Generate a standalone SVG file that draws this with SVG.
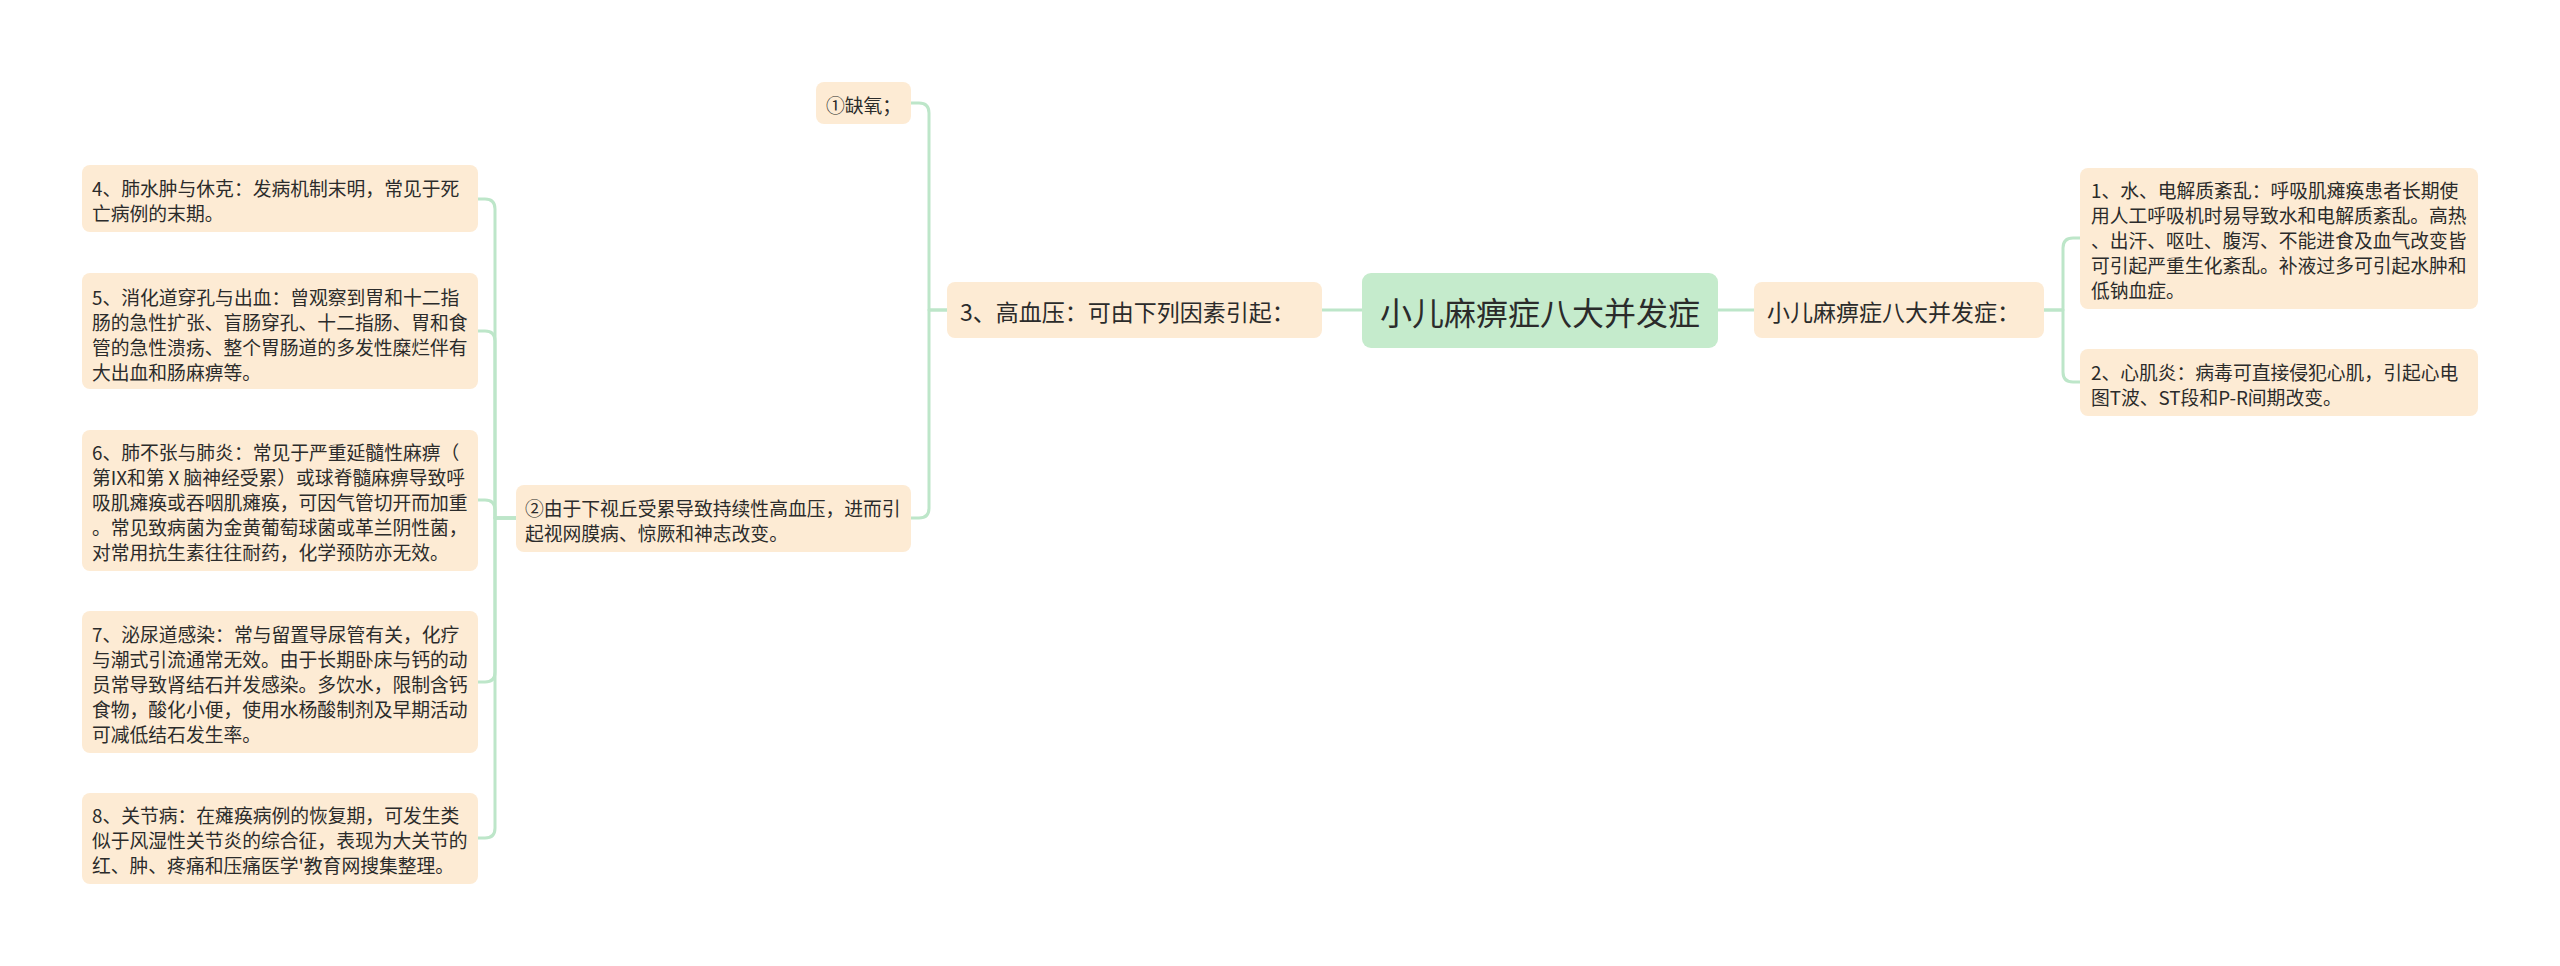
<svg xmlns="http://www.w3.org/2000/svg" width="2560" height="966" viewBox="0 0 2560 966">
<style>
.bg{fill:#ffffff}
.n{fill:#fdebd4}
.c{fill:#c5ebcc}
.t{font-family:"Noto Sans CJK SC","Noto Sans",sans-serif;fill:#2b2b2b;dominant-baseline:central}
.s{font-size:18.8px}
.m{font-size:23px}
.l{font-size:32px}
.e{fill:none;stroke:#bde6c9;stroke-width:3;stroke-linecap:round;stroke-linejoin:round}
</style>
<rect class="bg" x="0" y="0" width="2560" height="966"/>
<g id="connectors">
<path class="e" d="M1362,310 H1322"/>
<path class="e" d="M947,310 H929 V113 Q929,103 919,103 H911"/>
<path class="e" d="M947,310 H929 V508 Q929,518 919,518 H911"/>
<path class="e" d="M516,518 H495 V209 Q495,199 485,199 H478"/>
<path class="e" d="M516,518 H495 V341 Q495,331 485,331 H478"/>
<path class="e" d="M516,518 H495 V510 Q495,500 485,500 H478"/>
<path class="e" d="M516,518 H495 V672 Q495,682 485,682 H478"/>
<path class="e" d="M516,518 H495 V828 Q495,838 485,838 H478"/>
<path class="e" d="M1718,310 H1754"/>
<path class="e" d="M2044,310 H2063 V248 Q2063,238 2073,238 H2080"/>
<path class="e" d="M2044,310 H2063 V372 Q2063,382 2073,382 H2080"/>
</g>
<g id="center">
<rect class="c" x="1362" y="273" width="356" height="75" rx="9"/>
<text class="t l" x="1540" y="311" text-anchor="middle">小儿麻痹症八大并发症</text>
</g>
<g id="right-main">
<rect class="n" x="1754" y="282" width="290" height="56" rx="8"/>
<text class="t m" x="1767" y="311">小儿麻痹症八大并发症：</text>
</g>
<g id="r1">
<rect class="n" x="2080" y="168" width="398" height="141" rx="8"/>
<text class="t s" x="2091"><tspan x="2091" y="189">1、水、电解质紊乱：呼吸肌瘫痪患者长期使</tspan><tspan x="2091" y="214">用人工呼吸机时易导致水和电解质紊乱。高热</tspan><tspan x="2091" y="239">、出汗、呕吐、腹泻、不能进食及血气改变皆</tspan><tspan x="2091" y="264">可引起严重生化紊乱。补液过多可引起水肿和</tspan><tspan x="2091" y="289">低钠血症。</tspan></text>
</g>
<g id="r2">
<rect class="n" x="2080" y="349" width="398" height="67" rx="8"/>
<text class="t s"><tspan x="2091" y="371">2、心肌炎：病毒可直接侵犯心肌，引起心电</tspan><tspan x="2091" y="396">图T波、ST段和P-R间期改变。</tspan></text>
</g>
<g id="left-main">
<rect class="n" x="947" y="282" width="375" height="56" rx="8"/>
<text class="t m" x="960" y="311">3、高血压：可由下列因素引起：</text>
</g>
<g id="l1">
<rect class="n" x="816" y="82" width="95" height="42" rx="8"/>
<text class="t s" x="826" y="104">①缺氧；</text>
</g>
<g id="l2">
<rect class="n" x="516" y="485" width="395" height="67" rx="8"/>
<text class="t s"><tspan x="525" y="507">②由于下视丘受累导致持续性高血压，进而引</tspan><tspan x="525" y="532">起视网膜病、惊厥和神志改变。</tspan></text>
</g>
<g id="n4">
<rect class="n" x="82" y="165" width="396" height="67" rx="8"/>
<text class="t s"><tspan x="92" y="187">4、肺水肿与休克：发病机制末明，常见于死</tspan><tspan x="92" y="212">亡病例的末期。</tspan></text>
</g>
<g id="n5">
<rect class="n" x="82" y="273" width="396" height="116" rx="8"/>
<text class="t s"><tspan x="92" y="296">5、消化道穿孔与出血：曾观察到胃和十二指</tspan><tspan x="92" y="321">肠的急性扩张、盲肠穿孔、十二指肠、胃和食</tspan><tspan x="92" y="346">管的急性溃疡、整个胃肠道的多发性糜烂伴有</tspan><tspan x="92" y="371">大出血和肠麻痹等。</tspan></text>
</g>
<g id="n6">
<rect class="n" x="82" y="430" width="396" height="141" rx="8"/>
<text class="t s"><tspan x="92" y="451">6、肺不张与肺炎：常见于严重延髓性麻痹（</tspan><tspan x="92" y="476">第IX和第Ⅹ脑神经受累）或球脊髓麻痹导致呼</tspan><tspan x="92" y="501">吸肌瘫痪或吞咽肌瘫痪，可因气管切开而加重</tspan><tspan x="92" y="526">。常见致病菌为金黄葡萄球菌或革兰阴性菌，</tspan><tspan x="92" y="551">对常用抗生素往往耐药，化学预防亦无效。</tspan></text>
</g>
<g id="n7">
<rect class="n" x="82" y="611" width="396" height="142" rx="8"/>
<text class="t s"><tspan x="92" y="633">7、泌尿道感染：常与留置导尿管有关，化疗</tspan><tspan x="92" y="658">与潮式引流通常无效。由于长期卧床与钙的动</tspan><tspan x="92" y="683">员常导致肾结石并发感染。多饮水，限制含钙</tspan><tspan x="92" y="708">食物，酸化小便，使用水杨酸制剂及早期活动</tspan><tspan x="92" y="733">可减低结石发生率。</tspan></text>
</g>
<g id="n8">
<rect class="n" x="82" y="793" width="396" height="91" rx="8"/>
<text class="t s"><tspan x="92" y="814">8、关节病：在瘫痪病例的恢复期，可发生类</tspan><tspan x="92" y="839">似于风湿性关节炎的综合征，表现为大关节的</tspan><tspan x="92" y="864">红、肿、疼痛和压痛医学'教育网搜集整理。</tspan></text>
</g>
</svg>
